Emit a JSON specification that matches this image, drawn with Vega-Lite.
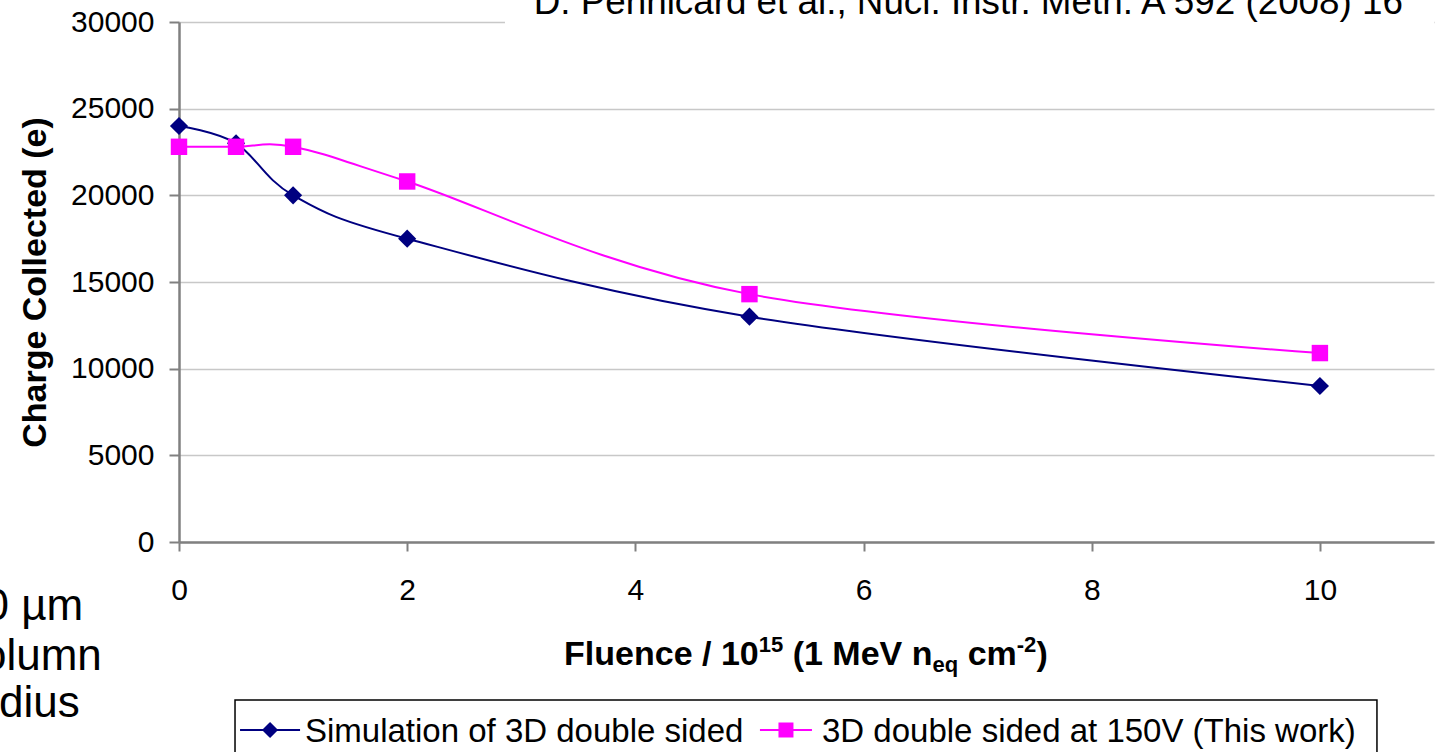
{
  "$schema": "https://vega.github.io/schema/vega-lite/v6.json",
  "width": 1255,
  "height": 520,
  "autosize": "none",
  "padding": {"left": 179, "top": 22, "right": 3, "bottom": 210},
  "background": "white",
  "config": {
    "font": "Liberation Sans",
    "view": {"stroke": null},
    "axis": {"labelFont": "Liberation Sans", "titleFont": "Liberation Sans", "labelColor": "#000000", "titleColor": "#000000"}
  },
  "data": {
    "values": [
      {"fluence": 0, "charge": 24000, "series": "Simulation of 3D double sided"},
      {"fluence": 0.5, "charge": 23000, "series": "Simulation of 3D double sided"},
      {"fluence": 1, "charge": 20000, "series": "Simulation of 3D double sided"},
      {"fluence": 2, "charge": 17500, "series": "Simulation of 3D double sided"},
      {"fluence": 5, "charge": 13000, "series": "Simulation of 3D double sided"},
      {"fluence": 10, "charge": 9000, "series": "Simulation of 3D double sided"},
      {"fluence": 0, "charge": 22800, "series": "3D double sided at 150V (This work)"},
      {"fluence": 0.5, "charge": 22800, "series": "3D double sided at 150V (This work)"},
      {"fluence": 1, "charge": 22800, "series": "3D double sided at 150V (This work)"},
      {"fluence": 2, "charge": 20800, "series": "3D double sided at 150V (This work)"},
      {"fluence": 5, "charge": 14300, "series": "3D double sided at 150V (This work)"},
      {"fluence": 10, "charge": 10900, "series": "3D double sided at 150V (This work)"}
    ]
  },
  "layer": [
    {
      "mark": {"type": "line", "interpolate": "cardinal", "strokeWidth": 2},
      "encoding": {
        "x": {
          "field": "fluence", "type": "quantitative",
          "scale": {"domain": [0, 11], "nice": false, "zero": false},
          "axis": {
            "values": [0, 2, 4, 6, 8, 10], "format": "d", "grid": false, "title": null,
            "labelFontSize": 30, "labelPadding": 24, "labelFlush": false, "labelOverlap": false,
            "tickSize": 9, "tickColor": "#808080", "tickWidth": 2,
            "domainColor": "#808080", "domainWidth": 2.5
          }
        },
        "y": {
          "field": "charge", "type": "quantitative",
          "scale": {"domain": [0, 30000], "nice": false},
          "axis": {
            "values": [0, 5000, 10000, 15000, 20000, 25000, 30000], "format": "d",
            "grid": true, "gridColor": "#c8c8c8", "gridWidth": 1.5,
            "title": "Charge Collected (e)", "titleFontSize": 34, "titleFontWeight": "bold", "titlePadding": 18,
            "labelFontSize": 30, "labelPadding": 15, "labelFlush": false, "labelOverlap": false,
            "tickSize": 10, "tickColor": "#808080", "tickWidth": 2,
            "domainColor": "#808080", "domainWidth": 2.5
          }
        },
        "color": {
          "field": "series", "type": "nominal",
          "scale": {"domain": ["Simulation of 3D double sided", "3D double sided at 150V (This work)"], "range": ["#000080", "#ff00ff"]},
          "legend": null
        }
      }
    },
    {
      "data": {"values": [{}]},
      "mark": {"type": "rect", "fill": "white", "clip": false},
      "encoding": {
        "x": {"datum": 2.857, "type": "quantitative", "scale": {"domain": [0, 11], "nice": false, "zero": false}},
        "x2": {"datum": 11},
        "y": {"datum": 29850, "type": "quantitative", "scale": {"domain": [0, 30000], "nice": false}},
        "y2": {"datum": 30150}
      }
    },
    {
      "transform": [{"filter": "datum.series === 'Simulation of 3D double sided'"}],
      "mark": {"type": "point", "shape": "diamond", "filled": true, "color": "#000080", "opacity": 1, "size": 330},
      "encoding": {
        "x": {"field": "fluence", "type": "quantitative", "scale": {"domain": [0, 11], "nice": false, "zero": false}},
        "y": {"field": "charge", "type": "quantitative", "scale": {"domain": [0, 30000], "nice": false}}
      }
    },
    {
      "transform": [{"filter": "datum.series === '3D double sided at 150V (This work)'"}],
      "mark": {"type": "point", "shape": "square", "filled": true, "color": "#ff00ff", "opacity": 1, "size": 270},
      "encoding": {
        "x": {"field": "fluence", "type": "quantitative", "scale": {"domain": [0, 11], "nice": false, "zero": false}},
        "y": {"field": "charge", "type": "quantitative", "scale": {"domain": [0, 30000], "nice": false}}
      }
    },
    {
      "data": {"values": [{}]},
      "mark": {"type": "rect", "fill": "white", "stroke": "#000000", "strokeWidth": 1.5, "clip": false},
      "encoding": {
        "x": {"datum": 0.491, "type": "quantitative", "scale": {"domain": [0, 11], "nice": false, "zero": false}},
        "x2": {"datum": 10.5},
        "y": {"datum": -9115, "type": "quantitative", "scale": {"domain": [0, 30000], "nice": false}},
        "y2": {"datum": -12865}
      }
    },
    {
      "data": {"values": [{}]},
      "mark": {"type": "rule", "color": "#000080", "strokeWidth": 2, "clip": false},
      "encoding": {
        "x": {"datum": 0.535, "type": "quantitative", "scale": {"domain": [0, 11], "nice": false, "zero": false}},
        "x2": {"datum": 1.061},
        "y": {"datum": -10846, "type": "quantitative", "scale": {"domain": [0, 30000], "nice": false}}
      }
    },
    {
      "data": {"values": [{}]},
      "mark": {"type": "point", "shape": "diamond", "filled": true, "color": "#000080", "opacity": 1, "size": 260, "clip": false},
      "encoding": {
        "x": {"datum": 0.798, "type": "quantitative", "scale": {"domain": [0, 11], "nice": false, "zero": false}},
        "y": {"datum": -10846, "type": "quantitative", "scale": {"domain": [0, 30000], "nice": false}}
      }
    },
    {
      "data": {"values": [{}]},
      "mark": {"type": "text", "align": "left", "baseline": "alphabetic", "fontSize": 33, "color": "#000000", "clip": false},
      "encoding": {
        "x": {"datum": 1.104, "type": "quantitative", "scale": {"domain": [0, 11], "nice": false, "zero": false}},
        "y": {"datum": -11538, "type": "quantitative", "scale": {"domain": [0, 30000], "nice": false}},
        "text": {"value": "Simulation of 3D double sided"}
      }
    },
    {
      "data": {"values": [{}]},
      "mark": {"type": "rule", "color": "#ff00ff", "strokeWidth": 2, "clip": false},
      "encoding": {
        "x": {"datum": 5.092, "type": "quantitative", "scale": {"domain": [0, 11], "nice": false, "zero": false}},
        "x2": {"datum": 5.548},
        "y": {"datum": -10846, "type": "quantitative", "scale": {"domain": [0, 30000], "nice": false}}
      }
    },
    {
      "data": {"values": [{}]},
      "mark": {"type": "point", "shape": "square", "filled": true, "color": "#ff00ff", "opacity": 1, "size": 225, "clip": false},
      "encoding": {
        "x": {"datum": 5.32, "type": "quantitative", "scale": {"domain": [0, 11], "nice": false, "zero": false}},
        "y": {"datum": -10846, "type": "quantitative", "scale": {"domain": [0, 30000], "nice": false}}
      }
    },
    {
      "data": {"values": [{}]},
      "mark": {"type": "text", "align": "left", "baseline": "alphabetic", "fontSize": 33, "color": "#000000", "clip": false},
      "encoding": {
        "x": {"datum": 5.636, "type": "quantitative", "scale": {"domain": [0, 11], "nice": false, "zero": false}},
        "y": {"datum": -11538, "type": "quantitative", "scale": {"domain": [0, 30000], "nice": false}},
        "text": {"value": "3D double sided at 150V (This work)"}
      }
    },
    {
      "data": {"values": [{}]},
      "mark": {"type": "text", "align": "right", "baseline": "alphabetic", "fontSize": 36.8, "color": "#000000", "clip": false},
      "encoding": {
        "x": {"datum": 10.728, "type": "quantitative", "scale": {"domain": [0, 11], "nice": false, "zero": false}},
        "y": {"datum": 30461, "type": "quantitative", "scale": {"domain": [0, 30000], "nice": false}},
        "text": {"value": "D. Pennicard et al., Nucl. Instr. Meth. A 592 (2008) 16"}
      }
    },
    {
      "data": {"values": [{}]},
      "mark": {"type": "text", "align": "left", "baseline": "alphabetic", "fontSize": 34, "fontWeight": "bold", "color": "#000000", "clip": false},
      "encoding": {
        "x": {"datum": 3.375, "type": "quantitative", "scale": {"domain": [0, 11], "nice": false, "zero": false}},
        "y": {"datum": -7096, "type": "quantitative", "scale": {"domain": [0, 30000], "nice": false}},
        "text": {"value": "Fluence / 10"}
      }
    },
    {
      "data": {"values": [{}]},
      "mark": {"type": "text", "align": "left", "baseline": "alphabetic", "fontSize": 22, "fontWeight": "bold", "color": "#000000", "dy": -13, "clip": false},
      "encoding": {
        "x": {"datum": 5.081, "type": "quantitative", "scale": {"domain": [0, 11], "nice": false, "zero": false}},
        "y": {"datum": -7096, "type": "quantitative", "scale": {"domain": [0, 30000], "nice": false}},
        "text": {"value": "15"}
      }
    },
    {
      "data": {"values": [{}]},
      "mark": {"type": "text", "align": "left", "baseline": "alphabetic", "fontSize": 34, "fontWeight": "bold", "color": "#000000", "clip": false},
      "encoding": {
        "x": {"datum": 5.379, "type": "quantitative", "scale": {"domain": [0, 11], "nice": false, "zero": false}},
        "y": {"datum": -7096, "type": "quantitative", "scale": {"domain": [0, 30000], "nice": false}},
        "text": {"value": "(1 MeV n"}
      }
    },
    {
      "data": {"values": [{}]},
      "mark": {"type": "text", "align": "left", "baseline": "alphabetic", "fontSize": 22, "fontWeight": "bold", "color": "#000000", "dy": 7, "clip": false},
      "encoding": {
        "x": {"datum": 6.604, "type": "quantitative", "scale": {"domain": [0, 11], "nice": false, "zero": false}},
        "y": {"datum": -7096, "type": "quantitative", "scale": {"domain": [0, 30000], "nice": false}},
        "text": {"value": "eq"}
      }
    },
    {
      "data": {"values": [{}]},
      "mark": {"type": "text", "align": "left", "baseline": "alphabetic", "fontSize": 34, "fontWeight": "bold", "color": "#000000", "clip": false},
      "encoding": {
        "x": {"datum": 6.913, "type": "quantitative", "scale": {"domain": [0, 11], "nice": false, "zero": false}},
        "y": {"datum": -7096, "type": "quantitative", "scale": {"domain": [0, 30000], "nice": false}},
        "text": {"value": "cm"}
      }
    },
    {
      "data": {"values": [{}]},
      "mark": {"type": "text", "align": "left", "baseline": "alphabetic", "fontSize": 22, "fontWeight": "bold", "color": "#000000", "dy": -13, "clip": false},
      "encoding": {
        "x": {"datum": 7.343, "type": "quantitative", "scale": {"domain": [0, 11], "nice": false, "zero": false}},
        "y": {"datum": -7096, "type": "quantitative", "scale": {"domain": [0, 30000], "nice": false}},
        "text": {"value": "-2"}
      }
    },
    {
      "data": {"values": [{}]},
      "mark": {"type": "text", "align": "left", "baseline": "alphabetic", "fontSize": 34, "fontWeight": "bold", "color": "#000000", "clip": false},
      "encoding": {
        "x": {"datum": 7.515, "type": "quantitative", "scale": {"domain": [0, 11], "nice": false, "zero": false}},
        "y": {"datum": -7096, "type": "quantitative", "scale": {"domain": [0, 30000], "nice": false}},
        "text": {"value": ")"}
      }
    },
    {
      "data": {"values": [{}]},
      "mark": {"type": "text", "align": "left", "baseline": "alphabetic", "fontSize": 44, "lineHeight": 47.5, "color": "#000000", "clip": false},
      "encoding": {
        "x": {"datum": -1.92, "type": "quantitative", "scale": {"domain": [0, 11], "nice": false, "zero": false}},
        "y": {"datum": -7384, "type": "quantitative", "scale": {"domain": [0, 30000], "nice": false}},
        "text": {"value": ["column", "radius"]}
      }
    },
    {
      "data": {"values": [{}]},
      "mark": {"type": "text", "align": "left", "baseline": "alphabetic", "fontSize": 44, "color": "#000000", "clip": false},
      "encoding": {
        "x": {"datum": -1.705, "type": "quantitative", "scale": {"domain": [0, 11], "nice": false, "zero": false}},
        "y": {"datum": -4500, "type": "quantitative", "scale": {"domain": [0, 30000], "nice": false}},
        "text": {"value": "0 µm"}
      }
    }
  ]
}
